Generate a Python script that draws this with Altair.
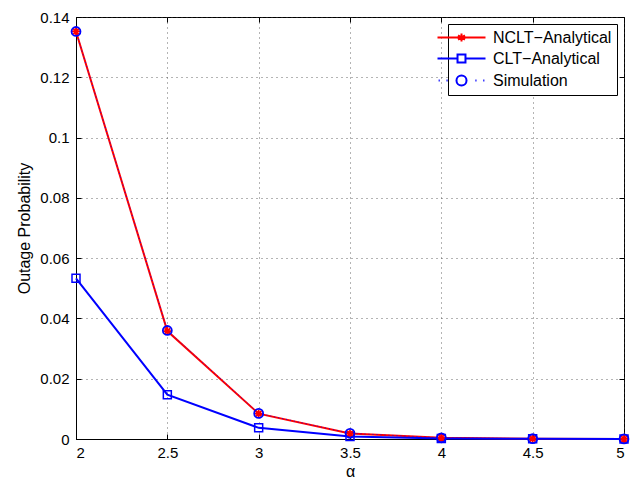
import altair as alt
import pandas as pd

alpha = [2, 2.5, 3, 3.5, 4, 4.5, 5]
nclt = [0.1352, 0.0358, 0.0084, 0.0018, 0.0004, 0.0001, 0.00002]
clt = [0.0533, 0.0147, 0.0037, 0.0008, 0.0002, 0.00005, 0.00001]
sim = [0.1352, 0.0360, 0.0085, 0.0019, 0.0004, 0.0001, 0.00002]

series_names = ["NCLT\u2212Analytical", "CLT\u2212Analytical", "Simulation"]
x_ticks = [2, 2.5, 3, 3.5, 4, 4.5, 5]
y_ticks = [0, 0.02, 0.04, 0.06, 0.08, 0.1, 0.12, 0.14]

df = pd.DataFrame({"alpha": alpha, "NCLT": nclt, "CLT": clt, "Sim": sim})
leg_df = pd.DataFrame({"series": series_names, "alpha": [2, 2, 2], "v": [0, 0, 0]})

W, H = 548, 422
FONT = "Liberation Sans"

xs = alt.Scale(domain=[2, 5], nice=False)
ys = alt.Scale(domain=[0, 0.14], nice=False)

x_axis = alt.Axis(values=x_ticks, format="~g", tickSize=0, grid=True,
                  gridDash=[1, 4], gridColor="#444444", gridOpacity=0.8,
                  domainColor="black", labelPadding=6, titlePadding=3,
                  labelFontSize=15, titleFontSize=16)
y_axis = alt.Axis(values=y_ticks, format="~g", tickSize=0, grid=True,
                  gridDash=[1, 4], gridColor="#444444", gridOpacity=0.8,
                  domainColor="black", labelPadding=7, titlePadding=7,
                  labelFontSize=15, titleFontSize=16)


def X():
    return alt.X("alpha:Q", scale=xs, axis=None)


def Y(f):
    return alt.Y(f + ":Q", scale=ys, axis=None)


ast = "M0,-1V1M-1,0H1M-0.7,-0.7L0.7,0.7M-0.7,0.7L0.7,-0.7"

base = alt.Chart(df)

red_line = base.mark_line(color="#FF0000", strokeWidth=2).encode(
    x=alt.X("alpha:Q", scale=xs, title="\u03b1", axis=x_axis),
    y=alt.Y("NCLT:Q", scale=ys, title="Outage Probability", axis=y_axis))
blue_line = base.mark_line(color="#0000FF", strokeWidth=2).encode(x=X(), y=Y("CLT"))
blue_pts = base.mark_point(shape="square", color="#0000FF", size=64, strokeWidth=1.5,
                           filled=False, opacity=1).encode(x=X(), y=Y("CLT"))
sim_line = base.mark_line(color="#0000FF", strokeWidth=1.0, strokeDash=[1, 3], opacity=0.8).encode(
    x=X(), y=Y("Sim"))
red_pts = base.mark_point(shape=ast, color="#FF0000", size=64, strokeWidth=1.8,
                          filled=False, opacity=1).encode(x=X(), y=Y("NCLT"))
sim_pts = base.mark_point(shape="circle", color="#0000FF", size=80, strokeWidth=1.8,
                          filled=False, opacity=1).encode(x=X(), y=Y("Sim"))

# legend layer: symbols combine line and marker
p_nclt = ("M-3.2,0H3.2M0,-0.53V0.53M-0.46,-0.27L0.46,0.27M-0.46,0.27L0.46,-0.27")
p_clt = ("M-3.2,0H-0.53M0.53,0H3.2M-0.53,-0.53H0.53V0.53H-0.53Z")
dots = "".join(f"M{x:.2f},0h0.15" for x in [-3.05, -2.0, 1.85, 2.9])
p_sim = dots + "M0.67,0A0.67,0.67 0 1,1 -0.67,0A0.67,0.67 0 1,1 0.67,0Z"

legend_layer = alt.Chart(leg_df).mark_point(filled=False, strokeWidth=2, size=225, opacity=1).encode(
    x=X(),
    y=Y("v"),
    color=alt.Color("series:N", scale=alt.Scale(domain=series_names, range=["#FF0000", "#0000FF", "#0000FF"]),
                    title=None,
                    legend=alt.Legend(orient="top-right", offset=7, strokeColor="black", fillColor="white",
                                      padding=5, labelFontSize=16, labelFont=FONT, symbolSize=225,
                                      symbolStrokeWidth=2, symbolOpacity=1, rowPadding=4, labelOffset=23,
                                      labelColor="black")),
    shape=alt.Shape("series:N", scale=alt.Scale(domain=series_names, range=[p_nclt, p_clt, p_sim]), title=None),
).transform_filter("datum.v > 1")


def tick_axis(orient, offset, vals):
    return alt.Axis(orient=orient, offset=offset, values=vals, labels=False, domain=False, grid=False,
                    tickSize=5, tickColor="black", tickWidth=1, title=None)


# inward ticks on all four edges
tick_layer1 = alt.Chart(df).mark_point(opacity=0).encode(
    x=alt.X("alpha:Q", scale=xs, axis=tick_axis("top", -H, x_ticks)),
    y=alt.Y("CLT:Q", scale=ys, axis=tick_axis("right", -W, y_ticks)),
)
tick_layer2 = alt.Chart(df).mark_point(opacity=0).encode(
    x=alt.X("alpha:Q", scale=xs, axis=tick_axis("bottom", -H, x_ticks)),
    y=alt.Y("CLT:Q", scale=ys, axis=tick_axis("left", -W, y_ticks)),
)

chart = alt.layer(red_line, blue_line, blue_pts, sim_line, red_pts, sim_pts,
                  tick_layer1, tick_layer2, legend_layer).resolve_axis(
    x="independent", y="independent"
).properties(
    width=W, height=H,
    padding={"left": 68, "top": 9, "right": 6, "bottom": 40},
    autosize=alt.AutoSizeParams(type="none"),
).configure(background="white").configure_view(stroke="black", strokeWidth=1).configure_axis(
    labelFont=FONT, titleFont=FONT, labelColor="black",
    titleColor="black", titleFontWeight="normal"
)

chart.save("out.html", embed_options={"renderer": "svg", "actions": False})
